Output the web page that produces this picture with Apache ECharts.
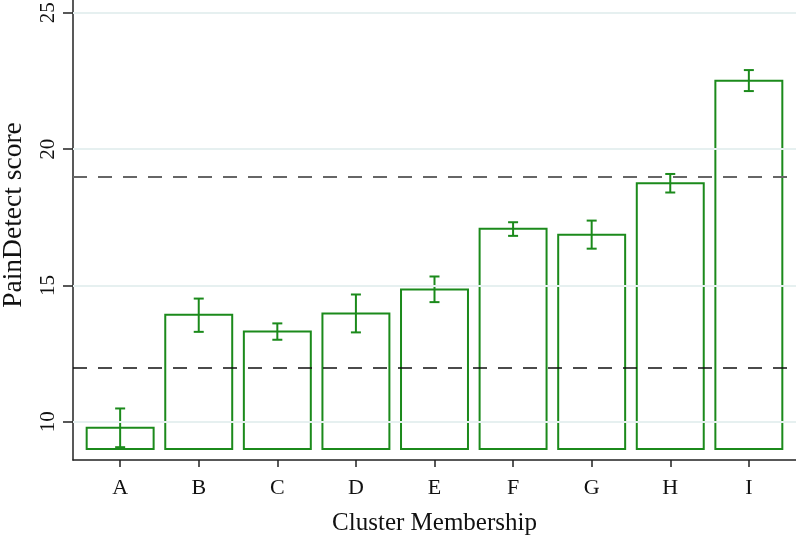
<!DOCTYPE html>
<html>
<head>
<meta charset="utf-8">
<script src="https://cdn.jsdelivr.net/npm/echarts@6/dist/echarts.min.js"></script>
<style>
  html, body { margin: 0; padding: 0; background: #fff; }
  #chart { width: 796px; height: 541px; }
</style>
</head>
<body>
<div id="chart"></div>
<script>
// data
const categories = ['A', 'B', 'C', 'D', 'E', 'F', 'G', 'H', 'I']
const means = [9.78, 13.93, 13.31, 13.97, 14.85, 17.08, 16.86, 18.75, 22.51]
const upper = [10.49, 14.52, 13.61, 14.67, 15.33, 17.32, 17.38, 19.09, 22.90]
const lower = [9.07, 13.30, 13.01, 13.28, 14.39, 16.82, 16.35, 18.41, 22.13]
const yTicks = [10, 15, 20, 25]
const refLines = [12, 19]
const barBase = 9

const green = '#1b8a1b'
const font = '"Liberation Serif", "Times New Roman", serif'

const positions = categories.map((c, i) => i + 1)
const barData = categories.map((c, i) => [i + 1, means[i], lower[i], upper[i]])

const chart = echarts.init(document.getElementById('chart'))

const option = {
  animation: false,
  backgroundColor: '#fff',
  grid: {left: 73, right: 0, top: 0, bottom: 81, outerBoundsMode: 'none', containLabel: false},
  xAxis: {
    type: 'value',
    min: 0.4,
    max: 9.6,
    name: 'Cluster Membership',
    nameLocation: 'middle',
    nameGap: 51,
    nameTextStyle: {fontFamily: font, fontSize: 25, color: '#111'},
    axisLine: {show: true, onZero: false, lineStyle: {color: '#222', width: 1.5}},
    axisTick: {show: true, length: 7, customValues: positions, lineStyle: {color: '#222', width: 1.5}},
    axisLabel: {
      customValues: positions,
      margin: 17,
      fontFamily: font, fontSize: 22, color: '#111',
      formatter: v => categories[Math.round(v) - 1] || ''
    },
    splitLine: {show: false}
  },
  yAxis: {
    type: 'value',
    min: 8.6,
    max: 25.47,
    name: 'PainDetect score',
    nameLocation: 'middle',
    nameGap: 45,
    nameRotate: 90,
    // left padding lifts the title a little above the plot's middle, like the original
    nameTextStyle: {fontFamily: font, fontSize: 27.5, color: '#111', padding: [0, 0, 0, 30]},
    axisLine: {show: true, onZero: false, lineStyle: {color: '#222', width: 1.5}},
    axisTick: {show: true, length: 10, customValues: yTicks, lineStyle: {color: '#222', width: 1.5}},
    axisLabel: {
      customValues: yTicks,
      rotate: 90,
      margin: 14,
      fontFamily: font, fontSize: 21, color: '#111'
    },
    splitLine: {show: false}
  },
  series: [
    {
      // faint grid lines at the tick values
      type: 'line',
      data: [],
      silent: true,
      markLine: {
        symbol: 'none',
        label: {show: false},
        lineStyle: {color: '#e6f0f0', width: 2, type: 'solid'},
        data: yTicks.map(v => ({yAxis: v}))
      }
    },
    {
      // reference lines
      type: 'line',
      data: [],
      silent: true,
      markLine: {
        symbol: 'none',
        label: {show: false},
        data: [
          {yAxis: refLines[0], lineStyle: {color: '#111', width: 1.5, type: [14, 11]}},
          {yAxis: refLines[1], lineStyle: {color: '#666', width: 2, type: [14, 11]}}
        ]
      }
    },
    {
      type: 'custom',
      data: barData,
      z: 3,
      renderItem: (params, api) => {
        const x = api.value(0)
        const top = api.coord([x, api.value(1)])
        const base = api.coord([x, barBase])
        const lo = api.coord([x, Math.max(api.value(2), barBase)])
        const hi = api.coord([x, api.value(3)])
        const w = api.size([0.852, 0])[0]
        const cap = 5
        const line = {stroke: green, lineWidth: 2, fill: null}
        return {
          type: 'group',
          children: [
            {
              type: 'rect',
              shape: {x: top[0] - w / 2, y: top[1], width: w, height: base[1] - top[1]},
              style: {stroke: green, lineWidth: 2, fill: 'rgba(0,0,0,0)'}
            },
            {type: 'line', shape: {x1: hi[0], y1: hi[1], x2: lo[0], y2: lo[1]}, style: line},
            {type: 'line', shape: {x1: hi[0] - cap, y1: hi[1], x2: hi[0] + cap, y2: hi[1]}, style: line},
            {type: 'line', shape: {x1: lo[0] - cap, y1: lo[1], x2: lo[0] + cap, y2: lo[1]}, style: line}
          ]
        }
      }
    }
  ]
}

chart.setOption(option)
</script>
</body>
</html>
